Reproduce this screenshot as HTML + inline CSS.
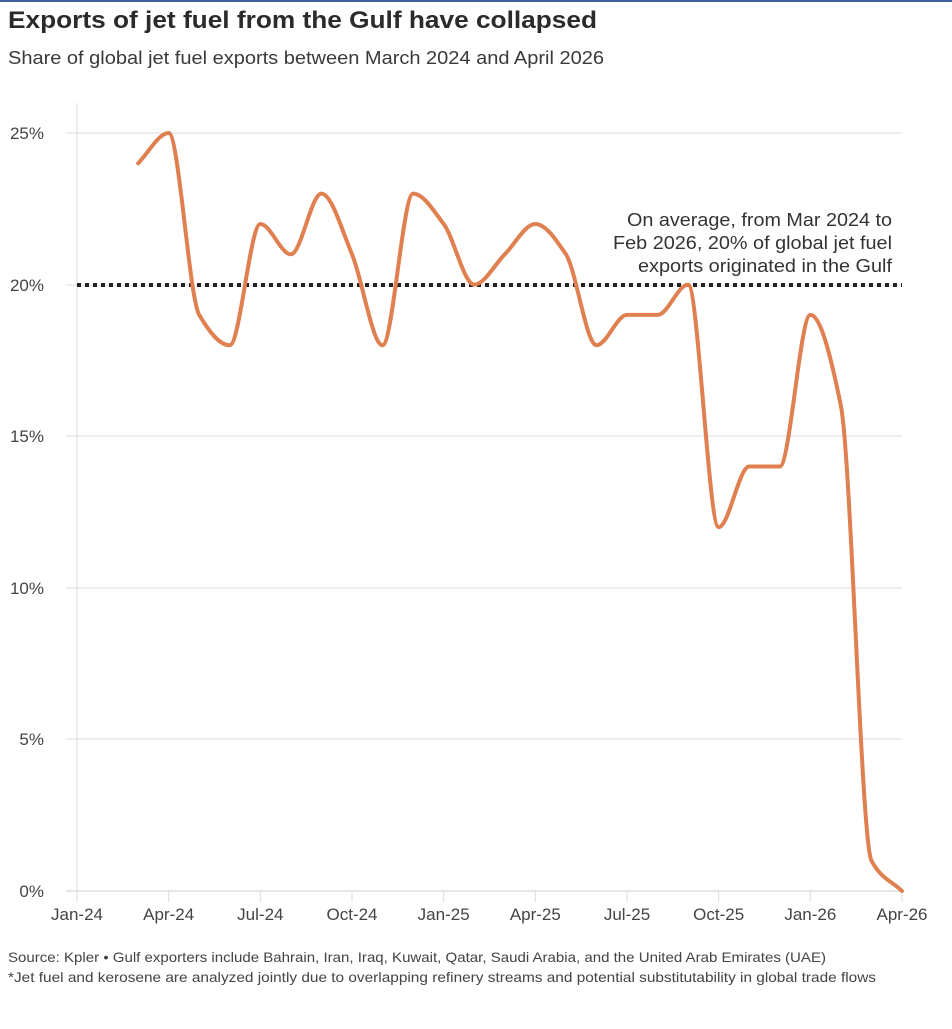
<!DOCTYPE html>
<html><head><meta charset="utf-8"><style>
body{margin:0;background:#fff;width:952px;height:1024px;overflow:hidden;font-family:"Liberation Sans",sans-serif;color:#333}
</style></head><body>
<svg id="s" width="952" height="1024" xmlns="http://www.w3.org/2000/svg" font-family="Liberation Sans, sans-serif">
<rect x="0" y="0" width="952" height="2" fill="#3a5f9a"/>
<text x="8" y="28" font-size="24" font-weight="bold" fill="#2b2b2b" textLength="589" lengthAdjust="spacingAndGlyphs">Exports of jet fuel from the Gulf have collapsed</text>
<text x="8" y="64" font-size="18" fill="#3a3a3a" textLength="596" lengthAdjust="spacingAndGlyphs">Share of global jet fuel exports between March 2024 and April 2026</text>
<g stroke="#dcdcdc" stroke-width="1">
<line x1="77" y1="103" x2="77" y2="902"/>
<line x1="66" y1="133" x2="902" y2="133"/>
<line x1="66" y1="285" x2="902" y2="285"/>
<line x1="66" y1="436" x2="902" y2="436"/>
<line x1="66" y1="588" x2="902" y2="588"/>
<line x1="66" y1="739" x2="902" y2="739"/>
<line x1="66" y1="891" x2="902" y2="891" stroke="#cfcfcf"/>
<g id="ticks"></g>
</g>
<g font-size="17" fill="#444" text-anchor="end">
<text x="44" y="139">25%</text><text x="44" y="291">20%</text><text x="44" y="442">15%</text>
<text x="44" y="594">10%</text><text x="44" y="745">5%</text><text x="44" y="897">0%</text>
</g>
<g id="xl" font-size="17" fill="#444" text-anchor="middle"></g>
<line x1="77" y1="285" x2="902" y2="285" stroke="#222" stroke-width="4" stroke-dasharray="4,4"/>
<g font-size="18" fill="#333" text-anchor="end">
<text x="892" y="226" textLength="265" lengthAdjust="spacingAndGlyphs">On average, from Mar 2024 to</text>
<text x="892" y="249" textLength="279" lengthAdjust="spacingAndGlyphs">Feb 2026, 20% of global jet fuel</text>
<text x="892" y="272" textLength="254" lengthAdjust="spacingAndGlyphs">exports originated in the Gulf</text>
</g>
<path id="p" fill="none" stroke="#e07f4f" stroke-width="4" stroke-linecap="round"/>
<text x="8" y="962" font-size="14" fill="#444" textLength="818" lengthAdjust="spacingAndGlyphs">Source: Kpler • Gulf exporters include Bahrain, Iran, Iraq, Kuwait, Qatar, Saudi Arabia, and the United Arab Emirates (UAE)</text>
<text x="8" y="982" font-size="14" fill="#444" textLength="868" lengthAdjust="spacingAndGlyphs">*Jet fuel and kerosene are analyzed jointly due to overlapping refinery streams and potential substitutability in global trade flows</text>
</svg>
<script>
var x0=77,dx=825/27,yf=function(v){return 891-v*30.32};
var labs=["Jan-24","Apr-24","Jul-24","Oct-24","Jan-25","Apr-25","Jul-25","Oct-25","Jan-26","Apr-26"];
var t="",l="";
for(var i=0;i<10;i++){var x=x0+i*3*dx;t+='<line x1="'+x+'" y1="891" x2="'+x+'" y2="902"/>';l+='<text x="'+x+'" y="920">'+labs[i]+'</text>';}
document.getElementById("ticks").innerHTML=t;document.getElementById("xl").innerHTML=l;
var v=[24,25,19,18,22,21,23,21,18,23,22,20,21,22,21,18,19,19,20,12,14,14,19,16,1,0];
var X=v.map(function(_,i){return x0+(i+2)*dx}),Y=v.map(yf),n=v.length;
var d=[],m=[];for(i=0;i<n-1;i++)d.push((Y[i+1]-Y[i])/dx);
m[0]=d[0];m[n-1]=d[n-2];
for(i=1;i<n-1;i++){m[i]=(d[i-1]*d[i]<=0)?0:2/(1/d[i-1]+1/d[i]);}
var p="M"+X[0]+","+Y[0];
for(i=0;i<n-1;i++){var h=dx/3;p+=" C"+(X[i]+h)+","+(Y[i]+m[i]*h)+" "+(X[i+1]-h)+","+(Y[i+1]-m[i+1]*h)+" "+X[i+1]+","+Y[i+1];}
document.getElementById("p").setAttribute("d",p);
</script>
</body></html>
